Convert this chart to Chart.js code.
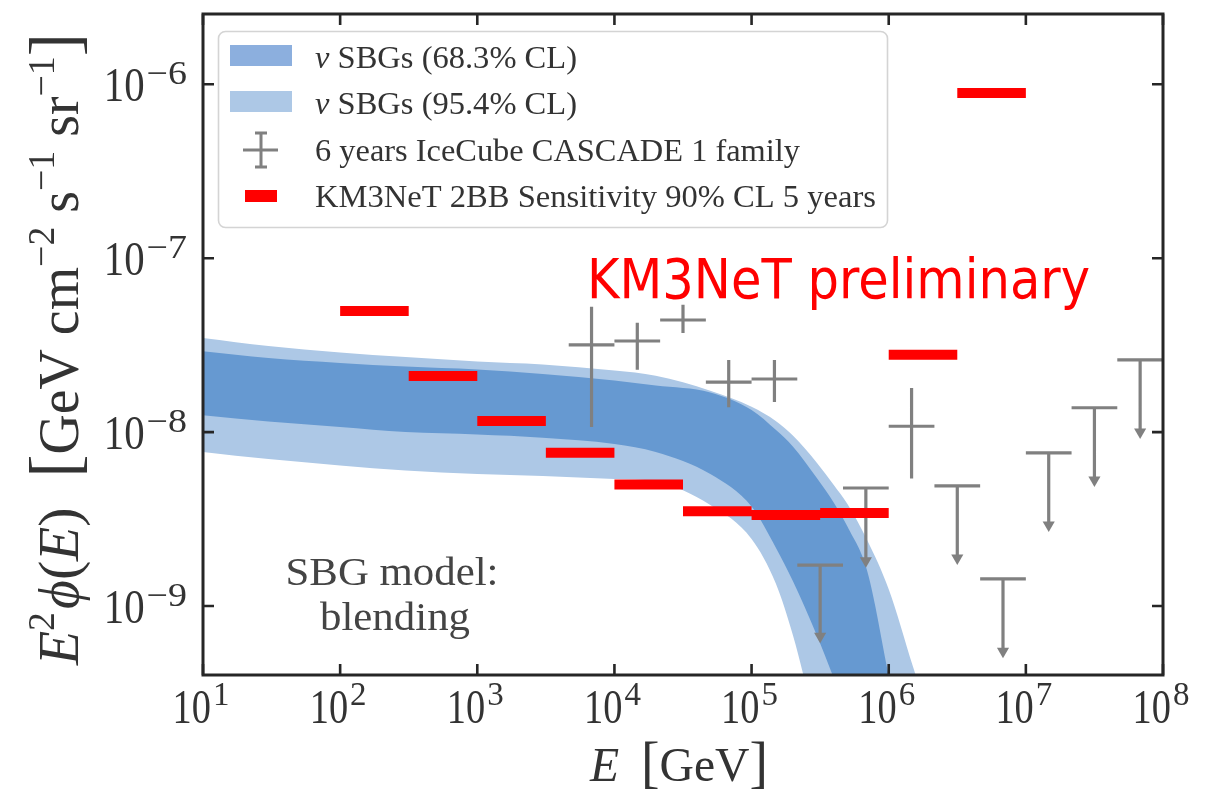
<!DOCTYPE html>
<html><head><meta charset="utf-8">
<script src="https://cdn.jsdelivr.net/npm/chart.js@4.4.1/dist/chart.umd.min.js"></script>
<style>html,body{margin:0;padding:0;background:#fff;}canvas{display:block;}</style>
</head><body>
<canvas id="c" width="1209" height="796"></canvas>
<script>
// ---------- data ----------
const bandE        = [10, 30, 100, 300, 1e3, 3e3, 1e4, 2e4, 5e4, 1e5, 1.5e5, 2e5, 3e5, 4e5, 5e5, 7e5, 1e6, 1.5e6, 2e6];
const band95Upper  = [3.48e-8, 3.13e-8, 2.87e-8, 2.70e-8, 2.55e-8, 2.45e-8, 2.26e-8, 2.11e-8, 1.73e-8, 1.40e-8, 1.16e-8, 9.55e-9, 6.65e-9, 4.93e-9, 3.86e-9, 2.37e-9, 1.25e-9, 4.5e-10, 2.2e-10];
const band68Upper  = [2.92e-8, 2.67e-8, 2.50e-8, 2.38e-8, 2.29e-8, 2.16e-8, 1.98e-8, 1.85e-8, 1.69e-8, 1.34e-8, 1.03e-8, 8.26e-9, 5.42e-9, 3.90e-9, 2.86e-9, 1.57e-9, 4.0e-10, 8.5e-11, 3e-11];
const band68Lower  = [1.25e-8, 1.15e-8, 1.07e-8, 1.00e-8, 9.68e-9, 9.29e-9, 8.55e-9, 7.68e-9, 5.74e-9, 3.73e-9, 2.17e-9, 1.39e-9, 6.74e-10, 3.8e-10, 2.4e-10, 1.2e-10, 5e-11, 1e-11, 5e-12];
const band95Lower  = [7.69e-9, 7.0e-9, 6.43e-9, 6.01e-9, 5.74e-9, 5.6e-9, 5.37e-9, 5.2e-9, 3.81e-9, 2.43e-9, 1.35e-9, 6.8e-10, 2.0e-10, 1e-10, 6e-11, 3e-11, 1e-11, 5e-12, 2e-12];

// KM3NeT 2BB sensitivity (half-decade bins)
const km3BinLo = [100, 316.2, 1000, 3162, 1e4, 31623, 1e5, 316228, 1e6, 3162278];
const km3BinHi = [316.2, 1000, 3162, 1e4, 31623, 1e5, 316228, 1e6, 3162278, 1e7];
const km3Sens  = [4.97e-8, 2.10e-8, 1.16e-8, 7.6e-9, 5.0e-9, 3.5e-9, 3.34e-9, 3.43e-9, 2.78e-8, 8.9e-7];

// IceCube cascade measured points
const icE     = [6810, 14680, 31620, 68130, 146800, 1468000];
const icBinLo = [4642, 1e4, 21544, 46416, 1e5, 1e6];
const icBinHi = [1e4, 21544, 46416, 1e5, 215443, 2154435];
const icFlux  = [3.17e-8, 3.34e-8, 4.41e-8, 1.94e-8, 2.02e-8, 1.08e-8];
const icErrLo = [1.07e-8, 2.28e-8, 3.71e-8, 1.39e-8, 1.49e-8, 5.4e-9];
const icErrHi = [5.25e-8, 4.25e-8, 5.39e-8, 2.60e-8, 2.60e-8, 1.79e-8];

// IceCube upper limits
const ulE     = [316228, 681292, 3162278, 6812921, 14677993, 31622777, 68129207];
const ulBinLo = [215443, 464159, 2154435, 4641589, 1e7, 21544347, 46415888];
const ulBinHi = [464159, 1e6, 4641589, 1e7, 21544347, 46415888, 1e8];
const ulFlux  = [1.72e-9, 4.77e-9, 4.9e-9, 1.43e-9, 7.6e-9, 1.38e-8, 2.60e-8];
const ulArrow = [6.7e-10, 1.82e-9, 1.89e-9, 5.5e-10, 2.92e-9, 5.3e-9, 1.00e-8];

// ticks
const xTickExp = [1, 2, 3, 4, 5, 6, 7, 8];
const yTickExp = [-6, -7, -8, -9];

// legend labels
const legendLabels = ['SBGs (68.3% CL)', 'SBGs (95.4% CL)', '6 years IceCube CASCADE 1 family', 'KM3NeT 2BB Sensitivity 90% CL 5 years'];

// ---------- build datasets ----------
const pts = (xs, ys) => xs.map((x, i) => ({x: x, y: ys[i]}));
function segments(list) {
  const out = [];
  list.forEach(s => { out.push({x: s[0], y: s[1]}, {x: s[2], y: s[3]}, {x: s[2], y: null}); });
  return out;
}
const crossSegs = [];
icE.forEach((e, i) => {
  crossSegs.push([icBinLo[i], icFlux[i], icBinHi[i], icFlux[i]]);
  crossSegs.push([e, icErrLo[i], e, icErrHi[i]]);
});
const ulSegs = [];
ulE.forEach((e, i) => {
  ulSegs.push([ulBinLo[i], ulFlux[i], ulBinHi[i], ulFlux[i]]);
  ulSegs.push([e, ulFlux[i], e, ulArrow[i]]);
});
const km3Segs = km3Sens.map((v, i) => [km3BinLo[i], v, km3BinHi[i], v]);

const COL_DARK = '#6699d1', COL_LIGHT = '#adc8e6', COL_DARK_LEG = '#8cafde';
const GRAY = '#808080', RED = '#ff0000';
const serif = '"Liberation Serif","DejaVu Serif",serif';

const bandCommon = {borderColor: 'rgba(0,0,0,0)', borderWidth: 0, pointRadius: 0, cubicInterpolationMode: 'monotone'};
const datasets = [
  Object.assign({label: 'ν ' + legendLabels[1], data: pts(bandE, band95Upper), fill: '+1', backgroundColor: COL_LIGHT, order: 5}, bandCommon),
  Object.assign({label: '95 lower', data: pts(bandE, band95Lower), fill: false, order: 5}, bandCommon),
  Object.assign({label: 'ν ' + legendLabels[0], data: pts(bandE, band68Upper), fill: '+1', backgroundColor: COL_DARK, order: 4}, bandCommon),
  Object.assign({label: '68 lower', data: pts(bandE, band68Lower), fill: false, order: 4}, bandCommon),
  {label: legendLabels[2], data: segments(crossSegs), borderColor: GRAY, borderWidth: 3.2, pointRadius: 0, fill: false, spanGaps: false, order: 2},
  {label: 'IceCube UL', data: segments(ulSegs), borderColor: GRAY, borderWidth: 3.2, pointRadius: 0, fill: false, spanGaps: false, order: 2},
  {label: 'UL arrows', data: pts(ulE, ulArrow), showLine: false, pointStyle: 'triangle', pointRotation: 180, pointRadius: 7,
   pointBackgroundColor: GRAY, pointBorderWidth: 0, borderColor: GRAY, fill: false, order: 2},
  {label: legendLabels[3], data: segments(km3Segs), borderColor: RED, borderWidth: 10, pointRadius: 0, fill: false, spanGaps: false, order: 1}
];

// ---------- text helper ----------
function font(r) { return (r.style || 'normal') + ' normal ' + r.size + 'px ' + (r.family || serif); }
function drawRuns(ctx, runs, x, y, o) {
  o = o || {};
  ctx.save();
  const w = runs.map(r => {
    if (r.gap != null) return r.gap;
    ctx.font = font(r);
    return ctx.measureText(r.t).width * (r.sx || 1);
  });
  const total = w.reduce((s, v) => s + v, 0);
  const k = o.width ? o.width / total : (o.k || 1);
  ctx.translate(x, y);
  if (o.rotate) ctx.rotate(o.rotate);
  const len = total * k;
  const start = o.align === 'center' ? -len / 2 : (o.align === 'right' ? -len : 0);
  ctx.translate(start, 0);
  ctx.scale(k, 1);
  ctx.fillStyle = o.color || '#333';
  ctx.textBaseline = 'alphabetic';
  ctx.textAlign = 'left';
  let cx = 0;
  runs.forEach((r, i) => {
    if (r.gap == null) {
      ctx.save();
      ctx.translate(cx, r.dy || 0);
      ctx.scale(r.sx || 1, 1);
      ctx.font = font(r);
      ctx.fillText(r.t, 0, 0);
      ctx.restore();
    }
    cx += w[i];
  });
  ctx.restore();
}
const expStr = e => (e < 0 ? '\u2212' + (-e) : String(e));

// ---------- decoration plugin ----------
const decor = {
  id: 'decor',
  beforeDraw(chart) {
    const ctx = chart.ctx;
    ctx.save(); ctx.fillStyle = '#fff'; ctx.fillRect(0, 0, chart.width, chart.height); ctx.restore();
  },
  afterDatasetsDraw(chart) {
    const ctx = chart.ctx, a = chart.chartArea, xs = chart.scales.x, ys = chart.scales.y;
    ctx.save();
    ctx.strokeStyle = '#262626';
    ctx.lineWidth = 2.6;
    const TL = 11;
    ctx.beginPath();
    xTickExp.forEach(e => {
      const px = xs.getPixelForValue(Math.pow(10, e));
      ctx.moveTo(px, a.bottom); ctx.lineTo(px, a.bottom - TL);
      ctx.moveTo(px, a.top); ctx.lineTo(px, a.top + TL);
    });
    yTickExp.forEach(e => {
      const py = ys.getPixelForValue(Math.pow(10, e));
      ctx.moveTo(a.left, py); ctx.lineTo(a.left + TL, py);
      ctx.moveTo(a.right, py); ctx.lineTo(a.right - TL, py);
    });
    ctx.stroke();
    ctx.lineWidth = 3;
    ctx.strokeRect(a.left, a.top, a.right - a.left, a.bottom - a.top);
    ctx.restore();

    // tick labels
    xTickExp.forEach(e => {
      const px = xs.getPixelForValue(Math.pow(10, e));
      drawRuns(ctx, [{t: '10', size: 48, sx: 0.8}, {gap: 2}, {t: expStr(e), size: 33, dy: -18}], px - 2, a.bottom + 48, {align: 'center'});
    });
    yTickExp.forEach(e => {
      const py = ys.getPixelForValue(Math.pow(10, e));
      drawRuns(ctx, [{t: '10', size: 48, sx: 0.85}, {gap: 2}, {t: expStr(e), size: 33, sx: 1.15, dy: -17}], a.left - 16, py + 17, {align: 'right'});
    });

    // axis titles
    drawRuns(ctx, [{t: 'E', style: 'italic', size: 48}, {gap: 22}, {t: '[', size: 56}, {t: 'GeV', size: 48}, {t: ']', size: 56}],
      679, 781, {align: 'center', width: 178});
    drawRuns(ctx, [
      {t: 'E', style: 'italic', size: 56}, {t: '2', size: 38, dy: -24}, {gap: 3},
      {t: '\u03D5', style: 'italic', size: 56}, {t: '(', size: 58}, {t: 'E', style: 'italic', size: 56}, {t: ')', size: 58},
      {gap: 30}, {t: '[', size: 70}, {t: 'GeV cm', size: 56}, {t: '\u22122', size: 38, dy: -24},
      {t: ' s', size: 56}, {t: '\u22121', size: 38, dy: -24}, {t: ' sr', size: 56}, {t: '\u22121', size: 38, dy: -24}, {t: ']', size: 70}
    ], 78, 349, {align: 'center', width: 632, rotate: -Math.PI / 2});

    // annotations
    drawRuns(ctx, [{t: 'SBG model:', size: 40}], 392, 585, {align: 'center', width: 213, color: '#444'});
    drawRuns(ctx, [{t: 'blending', size: 40}], 395, 630, {align: 'center', width: 150, color: '#444'});
    drawRuns(ctx, [{t: 'KM3NeT preliminary', size: 56, family: '"DejaVu Sans",sans-serif'}], 587, 298, {width: 503, color: RED});
  },
  afterDraw(chart) {
    const ctx = chart.ctx;
    ctx.save();
    // legend frame
    ctx.beginPath();
    ctx.roundRect(218.5, 31.5, 669, 196, 7);
    ctx.fillStyle = 'rgba(255,255,255,0.85)';
    ctx.fill();
    ctx.strokeStyle = '#d4d4d4';
    ctx.lineWidth = 1.6;
    ctx.stroke();
    // patches
    ctx.fillStyle = COL_DARK_LEG; ctx.fillRect(230, 45, 62, 21);
    ctx.fillStyle = COL_LIGHT; ctx.fillRect(230, 91, 62, 21);
    // cross
    ctx.strokeStyle = GRAY; ctx.lineWidth = 3;
    ctx.beginPath();
    ctx.moveTo(243, 150); ctx.lineTo(278, 150);
    ctx.moveTo(261, 132); ctx.lineTo(261, 168);
    ctx.moveTo(255, 133); ctx.lineTo(267, 133);
    ctx.moveTo(255, 167); ctx.lineTo(267, 167);
    ctx.stroke();
    // red
    ctx.fillStyle = RED; ctx.fillRect(245, 190, 32, 12);
    ctx.restore();
    const tw = [262, 262, 485, 561];
    const by = [68, 114, 161, 207];
    drawRuns(ctx, [{t: '\u03BD', style: 'italic', size: 31}, {t: ' ' + legendLabels[0], size: 31}], 315, by[0], {width: tw[0], color: '#333'});
    drawRuns(ctx, [{t: '\u03BD', style: 'italic', size: 31}, {t: ' ' + legendLabels[1], size: 31}], 315, by[1], {width: tw[1], color: '#333'});
    drawRuns(ctx, [{t: legendLabels[2], size: 31}], 315, by[2], {width: tw[2], color: '#333'});
    drawRuns(ctx, [{t: legendLabels[3], size: 31}], 315, by[3], {width: tw[3], color: '#333'});
  }
};

new Chart(document.getElementById('c').getContext('2d'), {
  type: 'line',
  data: {datasets: datasets},
  options: {
    responsive: false,
    animation: false,
    devicePixelRatio: 1,
    layout: {padding: {left: 203, top: 14, right: 46, bottom: 121}},
    scales: {
      x: {type: 'logarithmic', min: 10, max: 1e8, display: false},
      y: {type: 'logarithmic', min: 4.01e-10, max: 2.536e-6, display: false}
    },
    plugins: {legend: {display: false}, tooltip: {enabled: false}, filler: {propagate: false}},
    elements: {line: {tension: 0}}
  },
  plugins: [decor]
});
</script>
</body></html>
